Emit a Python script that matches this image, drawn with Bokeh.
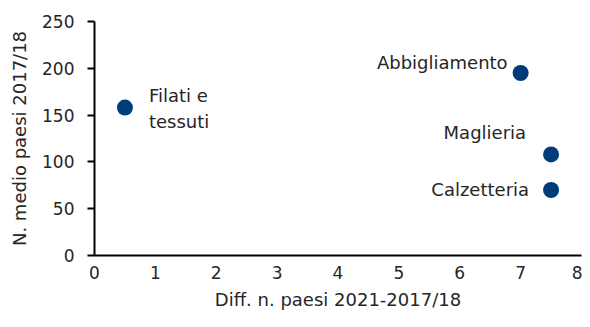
from bokeh.plotting import figure
from bokeh.models import Range1d, FixedTicker, ColumnDataSource
from bokeh.core.properties import value
from bokeh.embed import file_html
from bokeh.resources import INLINE

categories = ["Filati e\ntessuti", "Abbigliamento", "Maglieria", "Calzetteria"]
diff_paesi = [0.5, 7.0, 7.5, 7.5]
medio_paesi = [158, 195, 108, 70]
x_ticks = [0, 1, 2, 3, 4, 5, 6, 7, 8]
y_ticks = [0, 50, 100, 150, 200, 250]

FONT = "DejaVu Sans"
TXT = "#262626"

p = figure(width=582, height=319, output_backend="svg", toolbar_location=None,
           x_range=Range1d(0, 8), y_range=Range1d(0, 250),
           min_border_left=94, min_border_right=1, min_border_top=21, min_border_bottom=64)
p.xgrid.visible = False
p.ygrid.visible = False
p.outline_line_color = None

p.xaxis.ticker = FixedTicker(ticks=x_ticks)
p.yaxis.ticker = FixedTicker(ticks=y_ticks)
for ax in (p.xaxis[0], p.yaxis[0]):
    ax.axis_line_width = 2
    ax.axis_line_color = "black"
    ax.minor_tick_line_color = None
    ax.major_label_text_font = FONT
    ax.major_label_text_font_size = "17px"
    ax.major_label_text_color = TXT
    ax.axis_label_text_font = FONT
    ax.axis_label_text_font_size = "18px"
    ax.axis_label_text_font_style = "normal"
    ax.axis_label_text_color = TXT
p.xaxis.major_tick_line_color = None
p.xaxis.major_label_standoff = 4
p.xaxis.axis_label = "Diff. n. paesi 2021-2017/18"
p.xaxis.axis_label_standoff = 7
p.yaxis.major_tick_out = 7
p.yaxis.major_tick_in = 0
p.yaxis.major_tick_line_width = 2
p.yaxis.major_label_standoff = 13
p.yaxis.axis_label = "N. medio paesi 2017/18"
p.yaxis.axis_label_standoff = 9

src = ColumnDataSource(dict(
    x=diff_paesi, y=medio_paesi, label=categories,
    xo=[24, -13, -25, -22], yo=[1, -10, -22, 0],
    align=["left", "right", "right", "right"],
))
p.scatter("x", "y", source=src, size=16, color="#003B7A", line_color=None)
p.text("x", "y", text="label", source=src, x_offset="xo", y_offset="yo",
       text_align="align", text_baseline="middle", text_font=value(FONT),
       text_font_size="18px", text_color=TXT, text_line_height=1.25)

open("out.html", "w").write(file_html(p, INLINE))
